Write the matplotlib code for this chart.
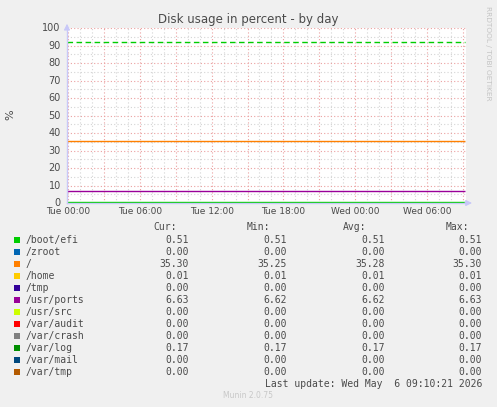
import numpy as np
import matplotlib
matplotlib.use("Agg")
import matplotlib.pyplot as plt
from matplotlib.patches import Rectangle

# data
names = ["/boot/efi", "/zroot", "/", "/home", "/tmp", "/usr/ports", "/usr/src",
         "/var/audit", "/var/crash", "/var/log", "/var/mail", "/var/tmp"]
colors = ["#00CC00", "#0066B3", "#FF8000", "#FFCC00", "#330099", "#990099",
          "#CCFF00", "#FF0000", "#808080", "#008F00", "#00487D", "#B35A00"]
cur = [0.51, 0.00, 35.30, 0.01, 0.00, 6.63, 0.00, 0.00, 0.00, 0.17, 0.00, 0.00]
mins = [0.51, 0.00, 35.25, 0.01, 0.00, 6.62, 0.00, 0.00, 0.00, 0.17, 0.00, 0.00]
avgs = [0.51, 0.00, 35.28, 0.01, 0.00, 6.62, 0.00, 0.00, 0.00, 0.17, 0.00, 0.00]
maxs = [0.51, 0.00, 35.30, 0.01, 0.00, 6.63, 0.00, 0.00, 0.00, 0.17, 0.00, 0.00]
warn_level = 92  # dashed green limit line

# hours since Tue 00:00
t_start, t_end = -0.08, 33.17
tick_pos = [0, 6, 12, 18, 24, 30]
tick_labels = ["Tue 00:00", "Tue 06:00", "Tue 12:00", "Tue 18:00", "Wed 00:00", "Wed 06:00"]

W, H = 497, 407
fig = plt.figure(figsize=(W / 100, H / 100), dpi=100)
fig.patch.set_facecolor("#F0F0F0")

def fx(px):
    return px / W

def fy(py):
    return 1 - py / H

# plot area in pixels
left, right, top, bottom = 67, 466, 28, 203
ax = fig.add_axes([fx(left), fy(bottom), fx(right - left), (bottom - top) / H])
ax.set_facecolor("white")
ax.set_xlim(t_start, 33.25)
ax.set_ylim(0, 100)

txt = "#4a4a4a"
for s in ["top", "right"]:
    ax.spines[s].set_visible(False)
for s in ["left", "bottom"]:
    ax.spines[s].set_color("#C8C8F8")
    ax.spines[s].set_linewidth(1)

# grids
ax.set_xticks(np.arange(0, 34, 3))
ax.set_xticks(np.arange(0, 34, 1), minor=True)
ax.set_yticks(np.arange(0, 101, 10))
ax.set_yticks(np.arange(0, 101, 5), minor=True)
ax.grid(which="minor", color="#D4D4D4", linestyle=(0, (1, 2)), linewidth=0.8)
ax.grid(which="major", color="#EBA0A0", linestyle=(0, (1, 2)), linewidth=0.8)
ax.tick_params(which="both", length=0)
ax.set_axisbelow(True)

ax.set_xticklabels([])
ax.set_yticklabels([])
for v in range(0, 101, 10):
    ax.text(-0.6, v, str(v), ha="right", va="center", fontsize=7, color=txt,
            transform=ax.transData)
for p, lab in zip(tick_pos, tick_labels):
    ax.text(p, -2.5, lab, ha="center", va="top", fontsize=6.5, color=txt)

# series
t = np.array([t_start, t_end])
for n, c, v in reversed(list(zip(names, colors, cur))):
    ax.plot(t, [v, v], color=c, linewidth=1, solid_capstyle="butt")
ax.plot(t, [warn_level, warn_level], color="#00CC00", linewidth=1,
        linestyle=(0, (4, 2.5)))

# axis arrows
ax.annotate("", xy=(0, 1.04), xytext=(0, 0.99), xycoords="axes fraction",
            arrowprops=dict(arrowstyle="-|>", color="#C8C8F8", lw=0.8, mutation_scale=9))
ax.annotate("", xy=(1.022, 0), xytext=(0.99, 0), xycoords="axes fraction",
            arrowprops=dict(arrowstyle="-|>", color="#C8C8F8", lw=0.8, mutation_scale=9))

# title and labels
fig.text(fx(248), fy(19), "Disk usage in percent - by day", ha="center", va="center",
         fontsize=8.5, color=txt)
fig.text(fx(10), fy(115), "%", ha="center", va="center", rotation=90, fontsize=8, color=txt)
fig.text(fx(488), fy(53), "RRDTOOL / TOBI OETIKER", ha="center", va="center",
         rotation=270, fontsize=5.3, color="#C4C4C4")

# legend table
mono = dict(family="DejaVu Sans Mono", fontsize=7, color=txt)
header_y = 227
fig.text(fx(177), fy(header_y), "Cur:", ha="right", va="center", **mono)
fig.text(fx(270), fy(header_y), "Min:", ha="right", va="center", **mono)
fig.text(fx(366), fy(header_y), "Avg:", ha="right", va="center", **mono)
fig.text(fx(469), fy(header_y), "Max:", ha="right", va="center", **mono)
for i, n in enumerate(names):
    y = 240 + 12 * i
    fig.patches.append(Rectangle((fx(14), fy(y + 3)), fx(6), 6 / H, transform=fig.transFigure,
                                 facecolor=colors[i], edgecolor="none"))
    fig.text(fx(26), fy(y), n, ha="left", va="center", **mono)
    fig.text(fx(189), fy(y), f"{cur[i]:.2f}", ha="right", va="center", **mono)
    fig.text(fx(287), fy(y), f"{mins[i]:.2f}", ha="right", va="center", **mono)
    fig.text(fx(385), fy(y), f"{avgs[i]:.2f}", ha="right", va="center", **mono)
    fig.text(fx(482), fy(y), f"{maxs[i]:.2f}", ha="right", va="center", **mono)

fig.text(fx(482), fy(384), "Last update: Wed May  6 09:10:21 2026", ha="right", va="center", **mono)
fig.text(fx(248), fy(396), "Munin 2.0.75", ha="center", va="center", fontsize=5.5, color="#C8C8C8")

fig.savefig("out.png", dpi=100, facecolor=fig.get_facecolor())
